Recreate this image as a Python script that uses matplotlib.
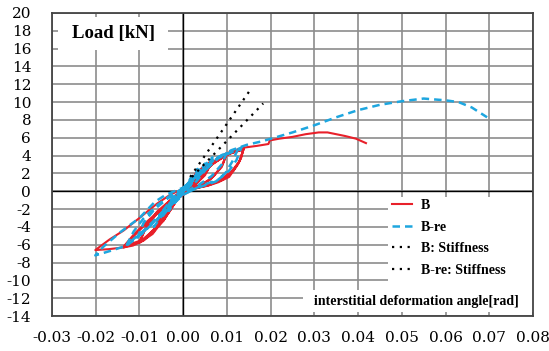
import matplotlib
matplotlib.use("Agg")
import matplotlib.pyplot as plt
from matplotlib.patches import Rectangle
from matplotlib.ticker import MultipleLocator, FormatStrFormatter

plt.rcParams["axes.unicode_minus"] = False

# Specimen B: interstory drift angle [rad] and load [kN], cyclic loading path
b_disp = [
    0, 0.001, 0.002, 0.0013, 0.0004, -0.001, -0.002, -0.0013, -0.0003,
    0.0012, 0.0033, 0.0024, 0.0009, -0.0012, -0.0033, -0.0024, -0.0008,
    0.0015, 0.0035, 0.005, 0.0038, 0.0018, -0.0005, -0.0025, -0.005, -0.0038, -0.0018, 0.0,
    0.0025, 0.005, 0.0036, 0.0015, -0.001, -0.005, -0.0035, -0.0012,
    0.002, 0.0045, 0.0067, 0.0055, 0.0035, 0.0012, -0.0015, -0.004, -0.0067, -0.0055, -0.0032, -0.001,
    0.002, 0.0045, 0.0067, 0.005, 0.0025, -0.0005, -0.003, -0.0067, -0.005, -0.002,
    0.001, 0.004, 0.007, 0.01, 0.009, 0.007, 0.0045, 0.0015, -0.0015, -0.0045, -0.007, -0.01,
    -0.0088, -0.0065, -0.0035, -0.001,
    0.002, 0.006, 0.01, 0.0088, 0.0062, 0.003, 0.0, -0.003, -0.0065, -0.01, -0.0085, -0.006, -0.002,
    0.002, 0.005, 0.008, 0.011, 0.0138, 0.0133, 0.0125, 0.0105, 0.008, 0.0055, 0.002, 0.0,
    -0.0015, -0.0045, -0.009, -0.0115, -0.0136, -0.0114, -0.009, -0.006, -0.003, -0.0005,
    0.003, 0.007, 0.011, 0.0138, 0.013, 0.0115, 0.009, 0.006, 0.002,
    -0.0015, -0.0045, -0.009, -0.0136, -0.0112, -0.0085, -0.005, -0.002,
    0.002, 0.006, 0.01, 0.0138, 0.0128, 0.011, 0.008, 0.004, 0.0,
    -0.0015, -0.0045, -0.009, -0.0136, -0.017, -0.0201, -0.0168, -0.0136, -0.01, -0.006, -0.003, 0.0,
    0.002, 0.005, 0.008, 0.011, 0.014, 0.017, 0.0195, 0.0198, 0.022, 0.025, 0.028, 0.031,
    0.033, 0.035, 0.037, 0.0395, 0.0418,
]
b_load = [
    0, 0.8, 1.5, 0.7, 0.1, -0.7, -1.4, -0.6, 0.0,
    0.8, 2.3, 1.3, 0.3, -0.8, -2.4, -1.3, -0.2,
    0.9, 2.2, 3.0, 1.8, 0.6, -0.3, -1.5, -3.4, -2.1, -0.7, 0.2,
    1.5, 2.9, 1.5, 0.4, -0.6, -3.3, -1.8, -0.4,
    1.0, 2.5, 3.6, 2.3, 1.1, 0.3, -0.7, -2.5, -4.5, -3.0, -1.4, -0.3,
    0.9, 2.3, 3.4, 1.8, 0.6, -0.3, -1.7, -4.4, -2.6, -0.8,
    0.3, 1.9, 3.3, 4.3, 3.0, 1.7, 0.8, 0.3, -0.8, -3.2, -4.8, -5.8,
    -4.4, -2.8, -1.3, -0.3,
    0.7, 2.8, 4.2, 2.7, 1.3, 0.5, -0.1, -1.8, -4.3, -5.7, -4.0, -2.3, -0.6,
    0.8, 2.3, 3.6, 4.4, 4.8, 3.8, 3.0, 1.6, 1.0, 0.6, 0.3, 0.0,
    -1.0, -3.3, -5.5, -6.1, -6.3, -5.1, -3.9, -2.5, -1.1, -0.1,
    1.3, 3.2, 4.3, 4.7, 3.5, 2.3, 1.3, 0.7, 0.2,
    -0.9, -3.2, -5.4, -6.2, -4.8, -3.5, -2.0, -0.6,
    0.9, 2.8, 4.1, 4.7, 3.3, 2.2, 1.1, 0.5, 0.0,
    -1.0, -3.3, -5.5, -6.3, -6.5, -6.6, -5.4, -4.4, -3.0, -1.4, -0.4, 0.3,
    1.2, 2.6, 3.7, 4.5, 4.9, 5.1, 5.3, 5.7, 5.9, 6.1, 6.4, 6.6,
    6.6, 6.4, 6.2, 5.9, 5.4,
]

# Specimen B-re
bre_disp = [
    0, 0.001, 0.002, 0.0013, 0.0004, -0.001, -0.002, -0.0013, -0.0004,
    0.0013, 0.0033, 0.0023, 0.0008, -0.0013, -0.0033, -0.0023, -0.0007,
    0.002, 0.005, 0.0037, 0.0017, -0.0007, -0.003, -0.005, -0.0037, -0.0015, 0.0,
    0.003, 0.0067, 0.0053, 0.003, 0.0005, -0.003, -0.0067, -0.005, -0.0025, 0.0,
    0.003, 0.007, 0.01, 0.0088, 0.0065, 0.0035, 0.0, -0.004, -0.007, -0.0105,
    -0.009, -0.0065, -0.0035, 0.0,
    0.004, 0.008, 0.0125, 0.0112, 0.0096, 0.0075, 0.004, 0.0, -0.005, -0.009, -0.0129,
    -0.0113, -0.009, -0.006, -0.003, 0.0,
    0.004, 0.008, 0.0133, 0.0122, 0.0105, 0.008, 0.004, 0.0, -0.005, -0.0095, -0.0129,
    -0.0167, -0.0201, -0.0182, -0.0144, -0.010, -0.0065, -0.004, 0.0,
    0.003, 0.007, 0.011, 0.0145, 0.018, 0.0215, 0.025, 0.03, 0.035, 0.04, 0.045,
    0.05, 0.055, 0.06, 0.063, 0.066, 0.0695,
]
bre_load = [
    0, 0.9, 1.7, 0.9, 0.2, -0.6, -1.3, -0.6, 0.0,
    1.0, 2.5, 1.4, 0.4, -0.8, -2.2, -1.1, -0.1,
    1.3, 3.1, 1.9, 0.7, -0.4, -1.7, -3.0, -1.7, -0.4, 0.3,
    1.9, 3.8, 2.5, 1.1, 0.2, -1.5, -4.0, -2.4, -0.8, 0.3,
    1.6, 3.5, 4.4, 3.0, 1.7, 0.7, -0.2, -1.9, -3.6, -5.2,
    -3.5, -2.0, -0.8, 0.3,
    2.0, 3.8, 4.7, 3.3, 2.0, 1.1, 0.5, -0.3, -2.5, -4.4, -6.0,
    -4.5, -3.0, -1.6, -0.5, 0.3,
    1.9, 3.7, 4.9, 3.5, 2.3, 1.3, 0.6, -0.4, -2.7, -4.8, -6.1,
    -6.7, -7.2, -6.2, -4.6, -3.0, -1.2, -0.4, 0.4,
    1.7, 3.5, 4.6, 5.2, 5.6, 6.1, 6.6, 7.4, 8.3, 9.1, 9.7,
    10.1, 10.4, 10.2, 10.0, 9.4, 8.3,
]

# Initial stiffness lines
b_stiff_disp = [0.0016, 0.0151]
b_stiff_load = [1.6, 11.2]
bre_stiff_disp = [0.0020, 0.0183]
bre_stiff_load = [1.6, 9.85]

x_ticks = [-0.03, -0.02, -0.01, 0.00, 0.01, 0.02, 0.03, 0.04, 0.05, 0.06, 0.07, 0.08]
y_ticks = list(range(-14, 21, 2))

fig = plt.figure(figsize=(5.49, 3.51), dpi=100)
ax = fig.add_axes([52 / 549, 35 / 351, 481 / 549, 303 / 351])

ax.set_xlim(-0.03, 0.08)
ax.set_ylim(-14, 20)
ax.set_xticks(x_ticks)
ax.set_yticks(y_ticks)
ax.xaxis.set_major_formatter(FormatStrFormatter("%.2f"))
ax.tick_params(length=0, labelsize=11)
ax.tick_params(axis="y", pad=15)
ax.tick_params(axis="x", pad=11)
for lab in ax.get_xticklabels() + ax.get_yticklabels():
    lab.set_fontfamily("DejaVu Serif")

ax.set_axisbelow(True)
ax.grid(True, color="#8c8c8c", lw=1.2)
ax.axhline(0, color="black", lw=1.0, zorder=1)
ax.axvline(0, color="black", lw=1.0, zorder=1)
for s in ax.spines.values():
    s.set_color("#444444")
    s.set_linewidth(1.3)

# white panels behind the annotations
def panel(x0, y0, x1, y1):
    tr = ax.transAxes
    fx = lambda px: (px - 52) / 481
    fy = lambda py: (316 - py) / 303
    ax.add_patch(Rectangle((fx(x0), fy(y1)), fx(x1) - fx(x0), fy(y0) - fy(y1),
                           transform=tr, facecolor="white", edgecolor="none",
                           zorder=1.5))

panel(58, 17, 168, 50)
panel(388, 197, 533, 292)
panel(303, 290, 533, 312)

ax.plot(b_disp, b_load, color="#e8202a", lw=1.5, zorder=2, label="B")
ax.plot(bre_disp, bre_load, color="#1ea6df", lw=1.8, dashes=(3, 2),
        zorder=3, label="B-re")
ax.plot(b_stiff_disp, b_stiff_load, color="black", lw=1.6,
        linestyle=(0, (1, 2.5)), zorder=4, label="B: Stiffness")
ax.plot(bre_stiff_disp, bre_stiff_load, color="black", lw=1.6,
        linestyle=(0, (1, 2.5)), zorder=4, label="B-re: Stiffness")

bold_serif = dict(family="Liberation Serif", weight="bold")
ax.text(0.127, 0.932, "Load [kN]", transform=ax.transAxes, ha="center",
        va="center", fontsize=13.5, zorder=5, **bold_serif)
ax.text(0.970, 0.047, "interstitial deformation angle[rad]", transform=ax.transAxes,
        ha="right", va="center", fontsize=10, zorder=5, **bold_serif)

leg = ax.legend(loc="upper left", bbox_to_anchor=((392 - 52) / 481, (316 - 199) / 303),
                frameon=False, borderpad=0, borderaxespad=0, handlelength=1.45,
                handletextpad=0.65, labelspacing=0.62,
                prop=dict(family="Liberation Serif", weight="bold", size=10))
leg.set_zorder(6)

fig.savefig("out.png", dpi=100)
